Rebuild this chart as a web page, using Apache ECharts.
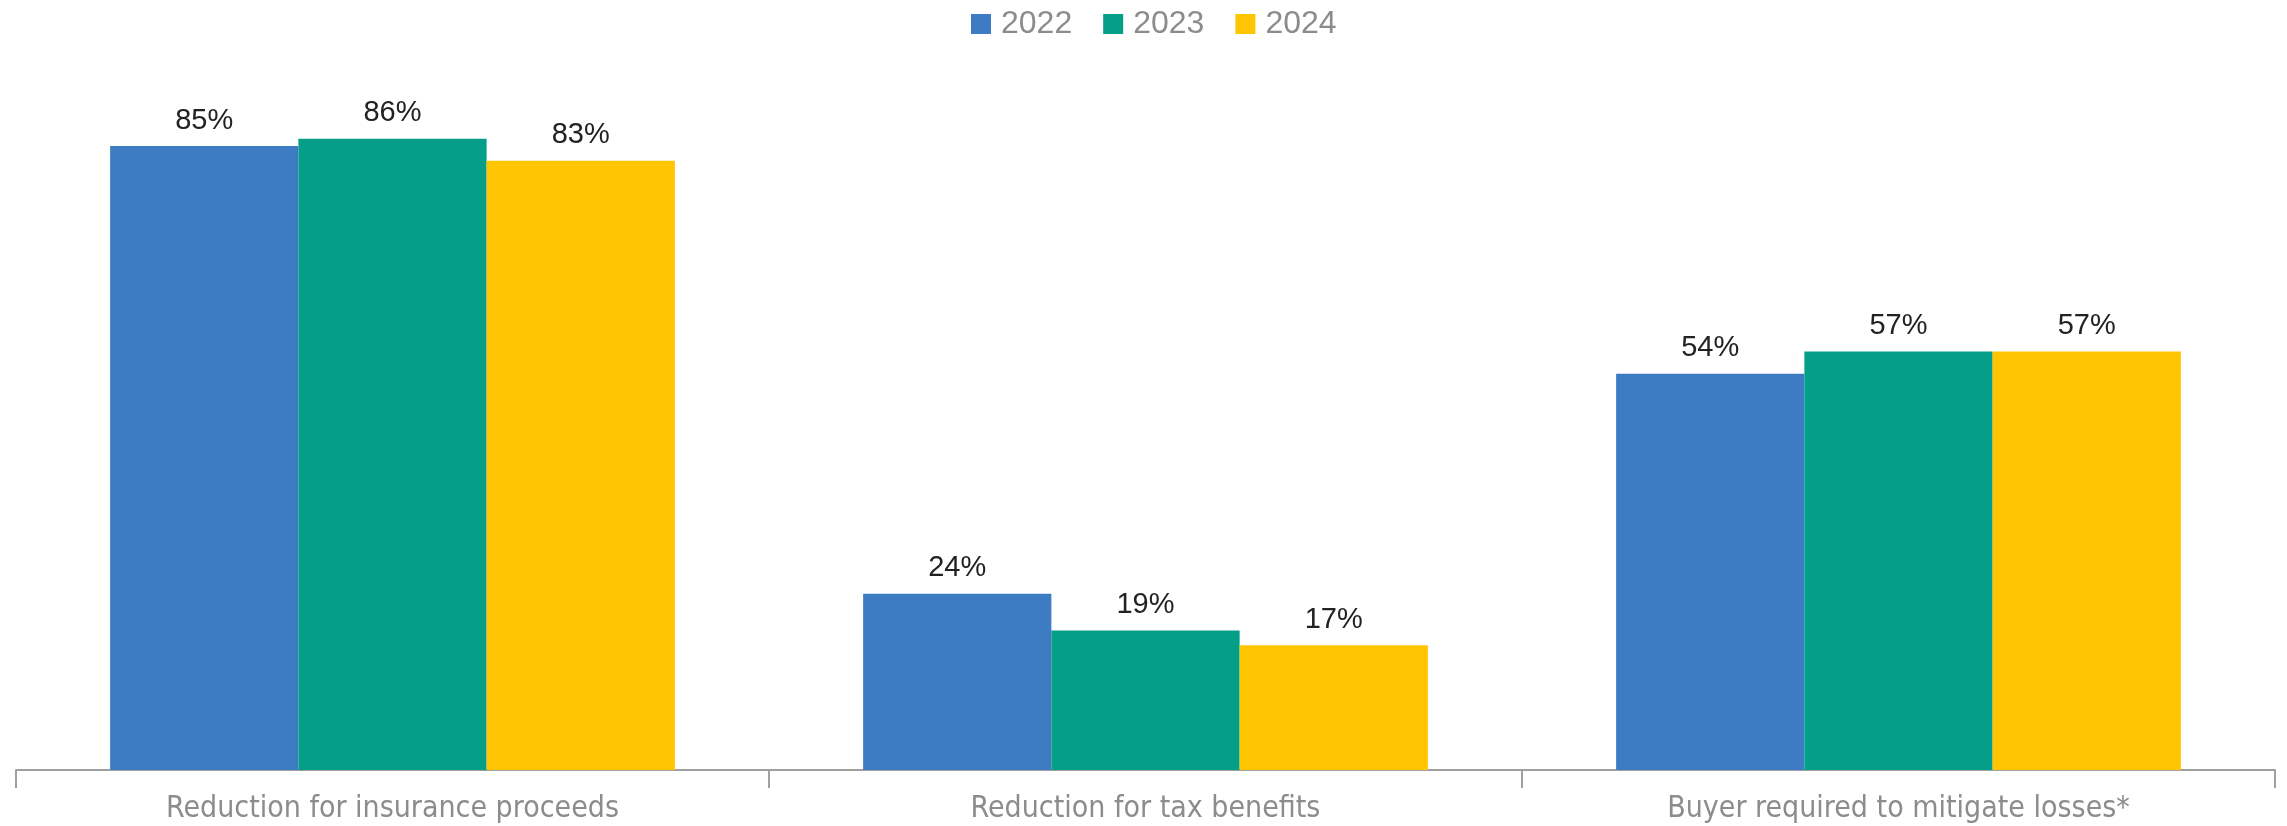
<!DOCTYPE html>
<html>
<head>
<meta charset="utf-8">
<script src="https://cdn.jsdelivr.net/npm/echarts@6/dist/echarts.min.js"></script>
<style>
  html, body { margin: 0; padding: 0; background: #fff; }
  #chart { width: 2287px; height: 826px; }
</style>
</head>
<body>
<div id="chart"></div>
<script>
// Categories and yearly shares (percent)
const categories = [
  'Reduction for insurance proceeds',
  'Reduction for tax benefits',
  'Buyer required to mitigate losses*'
];
const years = ['2022', '2023', '2024'];
const values2022 = [85, 24, 54];
const values2023 = [86, 19, 57];
const values2024 = [83, 17, 57];
const colors = ['#3d7cc2', '#049e89', '#ffc500'];

const seriesData = [values2022, values2023, values2024];

const chart = echarts.init(document.getElementById('chart'), null, { renderer: 'canvas' });

const numFont = '"Liberation Sans", Arial, sans-serif';
const narrowFont = '"Liberation Sans Narrow", "DejaVu Sans Condensed", "Liberation Sans", sans-serif';

chart.setOption({
  animation: false,
  color: colors,
  legend: {
    top: 3,
    left: 966,
    itemWidth: 20,
    itemHeight: 20,
    itemGap: 31,
    icon: 'rect',
    textStyle: { color: '#8c8c8c', fontSize: 32, fontFamily: numFont, padding: [0, 0, 0, 5] },
    data: years
  },
  grid: { left: 16, right: 12, top: 36, bottom: 56 },
  xAxis: {
    type: 'category',
    data: categories,
    axisLine: { lineStyle: { color: '#a0a0a0', width: 2 } },
    axisTick: { show: true, length: 18, lineStyle: { color: '#a0a0a0', width: 2 } },
    axisLabel: { color: '#8c8c8c', fontSize: 30, fontFamily: narrowFont, margin: 24 }
  },
  yAxis: {
    type: 'value',
    min: 0,
    max: 100,
    show: false,
    splitLine: { show: false }
  },
  series: seriesData.map((vals, i) => ({
    name: years[i],
    type: 'bar',
    data: vals,
    barGap: '0%',
    barCategoryGap: '25%',
    itemStyle: { color: colors[i] },
    label: {
      show: true,
      position: 'top',
      distance: 11,
      formatter: '{c}%',
      color: '#222',
      fontSize: 29,
      fontFamily: numFont
    }
  }))
});
</script>
</body>
</html>
